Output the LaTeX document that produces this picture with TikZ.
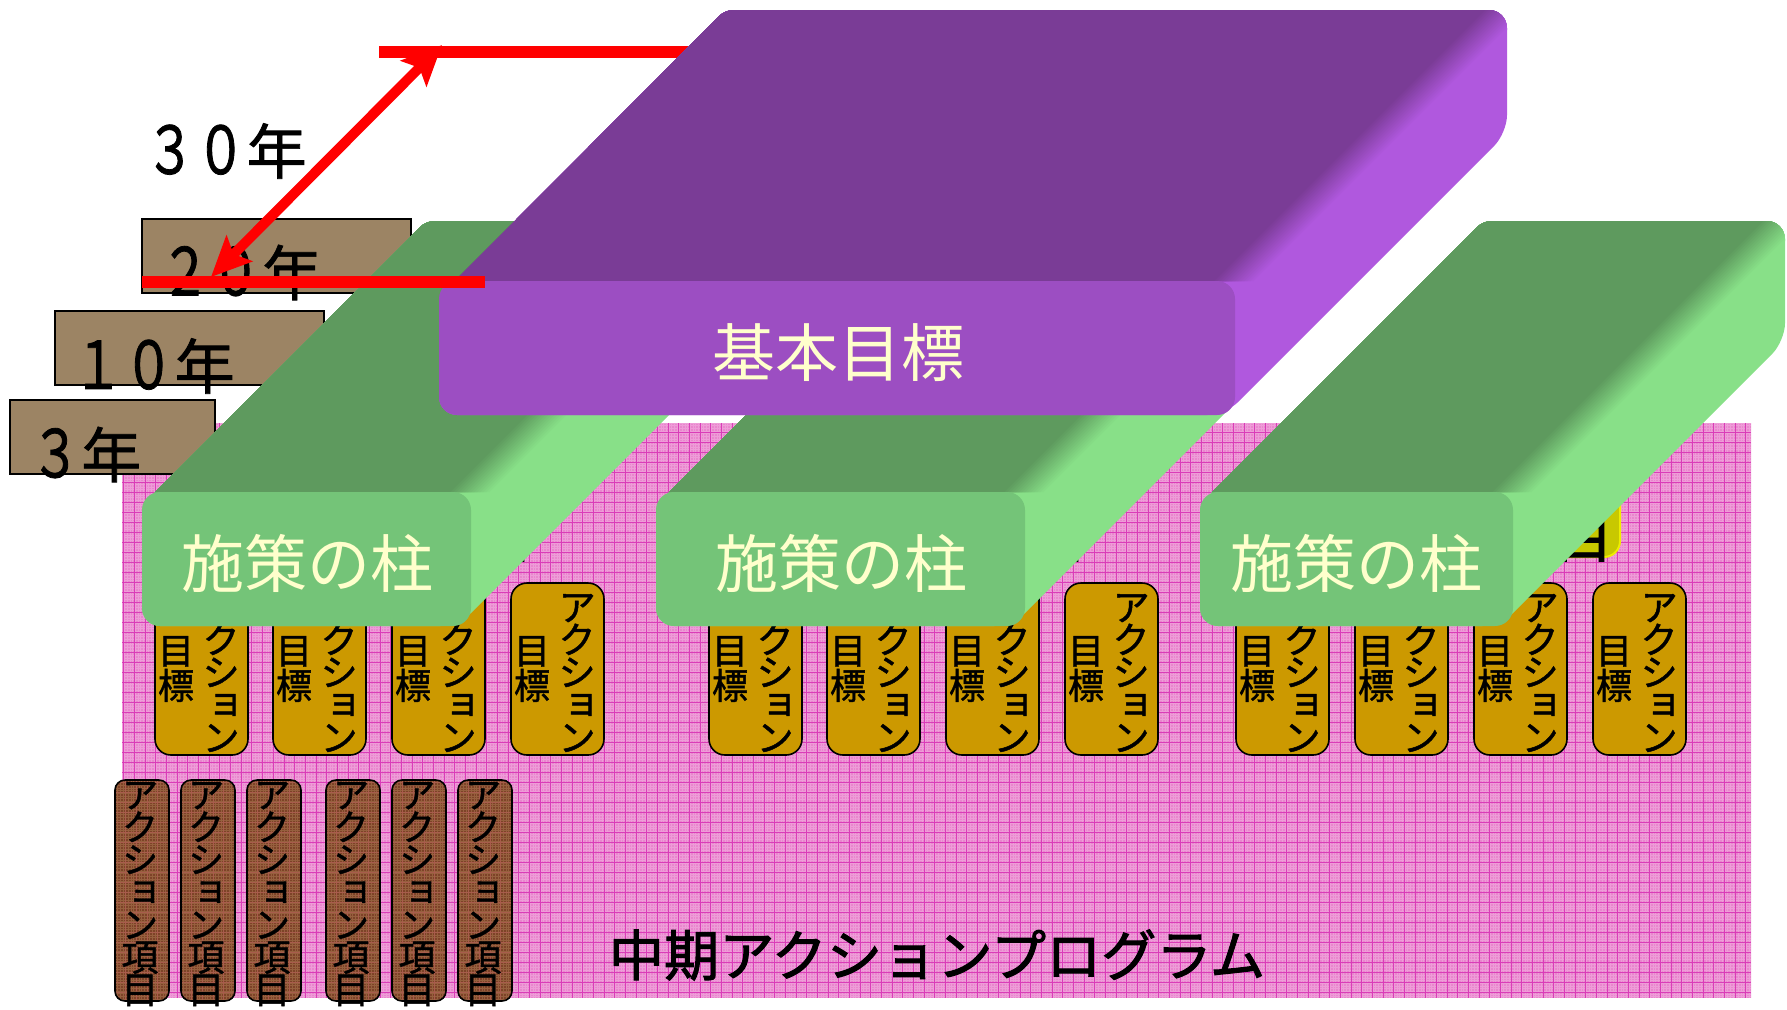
\documentclass[tikz,border=0pt]{standalone}
\usepackage{fontspec}
\usetikzlibrary{arrows.meta}
\setmainfont{Noto Sans CJK JP}
\newfontfamily\gvert[RawFeature={+vert},FakeBold=1.2]{Noto Sans CJK JP}
\newfontfamily\gbold[FakeBold=1.2]{Noto Sans CJK JP}
\newfontfamily\gheavy[FakeBold=1.8]{Noto Sans CJK JP}
\newfontfamily\gnarrow[FakeStretch=0.75,FakeBold=1.2]{Noto Sans CJK JP}
\newcommand\dg[1]{{\gnarrow\fontsize{33}{33}\selectfont #1}\kern.6pt\relax}
\definecolor{pinkbase}{HTML}{E986CD}
\definecolor{pinkfine}{HTML}{EE9CD8}
\definecolor{pinkline}{HTML}{DA3CB8}
\definecolor{itembase}{HTML}{7E4228}
\definecolor{itemfine}{HTML}{96603E}
\definecolor{itemline}{HTML}{A85C4C}
\definecolor{goldbox}{HTML}{CC9900}
\definecolor{yearbox}{HTML}{9C8464}
\definecolor{creamtext}{HTML}{FFFFCC}
\definecolor{gtop}{HTML}{5E9A5E}
\definecolor{gside}{HTML}{88E088}
\definecolor{gfront}{HTML}{74C478}
\definecolor{ptop}{HTML}{7A3C96}
\definecolor{pside}{HTML}{B058DE}
\definecolor{pfront}{HTML}{9C4EC2}
\definecolor{yfill}{HTML}{C8C800}
\definecolor{yedge}{HTML}{EEEE00}
\tikzset{
  goldstyle/.style={draw=black,line width=.8pt,fill=goldbox,rounded corners=8pt},
  itemoutline/.style={draw=black,line width=.8pt,rounded corners=5pt},
  yearstyle/.style={draw=black,line width=.8pt,fill=yearbox},
  gkana/.style={font=\gvert\fontsize{19}{16.3}\selectfont,align=center,inner sep=0pt},
  gkanji/.style={font=\gbold\fontsize{18}{17.5}\selectfont,align=center,inner sep=0pt},
  itemtext/.style={font=\gvert\fontsize{18.5}{16.25}\selectfont,align=center,inner sep=0pt},
  yeartext/.style={font=\gbold\fontsize{30}{30}\selectfont,inner sep=0pt},
  slabtext/.style={font=\fontsize{31.5}{31.5}\selectfont,text=creamtext,inner sep=0pt},
  titletext/.style={font=\gheavy\fontsize{27.6}{27.6}\selectfont,inner sep=0pt},
  stemtext/.style={font=\gbold\fontsize{31}{31}\selectfont,inner sep=0pt},
  redbar/.style={draw=red,line width=6pt},
  redarrow/.style={draw=red,line width=5pt,{Stealth[length=20pt,width=18pt,inset=4pt]}-{Stealth[length=20pt,width=18pt,inset=4pt]}},
}
% #1 top colour, #2 side, #3 front, #4 x1, #5 x2, #6 y1 (front top), #7 y2 (front bottom), #8 y0 (back top), #9 left sum
\newcommand\slabshape[9]{%
  \pgfmathsetmacro\Lb{#9-(#8)}\pgfmathsetmacro\Rs{#5+613}%
  \pgfmathsetmacro\Rb{#5+272}\pgfmathsetmacro\Ry{\Rs-\Rb}%
  \pgfmathsetmacro\Ly{#9-(#4)}\pgfmathsetmacro\Fx{\Rs-(#7)}%
  \begin{scope}
    \path[clip,rounded corners=4pt] (#4,\Ly) -- (\Lb,#8) [rounded corners=9pt] -- (\Rb,#8) -- (\Rb,\Ry) -- (\Fx,#7) -- (#4,#7) -- cycle;
    \fill[#2] (#4-20,#7+20) rectangle (\Rb+20,#8-20);
    \foreach \o in {21,18,...,-21}{
      \pgfmathsetmacro\m{(21-\o)/42*100}
      \fill[#1!\m!#2] (#4-20,#6) -- (#5+\o,#6) -- (#5+\o+320,#6-320) -- (#4-20,#6-320) -- cycle;
    }
  \end{scope}
  \fill[#3,rounded corners=9pt] (#4,#6) rectangle (#5,#7);
}
\begin{document}
\begin{tikzpicture}[x=.5pt,y=-.5pt]
\useasboundingbox (0,0) rectangle (1787,1009);
\fill[white] (0,0) rectangle (1787,1009);
% programme field
\begin{scope}
  \clip (122,423) rectangle (1751,998);
  \fill[pinkbase] (122,423) rectangle (1751,998);
  \foreach \k in {0,...,611}{\draw[pinkfine,line width=.2pt] (122+\k*2.667,423) -- (122+\k*2.667,998);}
  \foreach \k in {0,...,215}{\draw[pinkfine,line width=.2pt] (122,423+\k*2.667) -- (1751,423+\k*2.667);}
  \foreach \k in {0,...,152}{\draw[pinkline,line width=.4pt] (123.85+\k*10.67,423) -- (123.85+\k*10.67,998);}
  \foreach \k in {0,...,57}{\draw[pinkline,line width=.4pt] (122,432+\k*10) -- (1751,432+\k*10);}
\end{scope}
\node[titletext] (title) at (937,955) {中期アクションプログラム};
% action items
\foreach \x [count=\i] in {115,181,247,326,392,458}{
  \begin{scope}
    \clip[rounded corners=5pt] (\x,780) rectangle (\x+54,1001);
    \fill[itembase] (\x,780) rectangle (\x+54,1001);
    \foreach \k in {0,...,20}{\draw[itemfine,line width=.2pt] (\x+\k*2.667,780) -- (\x+\k*2.667,1001);}
    \foreach \k in {0,...,83}{\draw[itemfine,line width=.2pt] (\x,780+\k*2.667) -- (\x+54,780+\k*2.667);}
    \foreach \k in {0,...,5}{\draw[itemline,line width=.3pt] (\x+\k*10.67,780) -- (\x+\k*10.67,1001);}
    \foreach \k in {0,...,22}{\draw[itemline,line width=.3pt] (\x,782+\k*10) -- (\x+54,782+\k*10);}
  \end{scope}
  \draw[itemoutline] (\x,780) rectangle (\x+54,1001);
  \node[itemtext] (item\i) at (\x+25,894) {ア\\ク\\シ\\ョ\\ン\\項\\目};
}
% action goals
\foreach \x [count=\i] in {155,273,392,511,709,827,946,1065,1236,1355,1474,1593}{
  \draw[goldstyle] (\x,583) rectangle (\x+93,755);
  \node[gkana] (goalA\i) at (\x+66,673) {ア\\ク\\シ\\ョ\\ン};
  \node[gkanji] (goalB\i) at (\x+21,669) {目\\標};
}
% yellow box behind the third pillar, and the stems peeking out of the others
\draw[draw=yedge,fill=yfill,line width=1pt,rounded corners=8pt] (1527,400) rectangle (1620,557);
\node[stemtext] (yellowC) at (1583,535) {目};
\node[stemtext] (yellowA) at (503,535) {目};
\node[stemtext] (yellowB) at (1057,535) {目};
% year boxes
\draw[yearstyle] (142,219) rectangle (411,293);
\draw[yearstyle] (55,311) rectangle (324,385);
\draw[yearstyle] (10,400) rectangle (215,474);
\node[yeartext] (y30) at (226,151) {\dg{３}\dg{０}年};
\node[yeartext] (y20) at (241,272.5) {\dg{２}\dg{０}年};
\node[yeartext] (y10) at (154,366) {\dg{１}\dg{０}年};
\node[yeartext] (y3) at (86,454.5) {\dg{３}年};
% pillars
\slabshape{gtop}{gside}{gfront}{142}{471}{492}{626}{221}{647}
\slabshape{gtop}{gside}{gfront}{656}{1025}{492}{626}{221}{1161}
\slabshape{gtop}{gside}{gfront}{1200}{1513}{492}{626}{221}{1704}
\node[slabtext] (p1) at (307,563) {施策の柱};
\node[slabtext] (p2) at (841,563) {施策の柱};
\node[slabtext] (p3) at (1356,563) {施策の柱};
% 30-year bars and arrow
\coordinate (barTopL) at (379,52);
\coordinate (barTopR) at (720,52);
\coordinate (barBotL) at (142,282);
\coordinate (barBotR) at (485,282);
\coordinate (arrTop) at (442,45);
\coordinate (arrBot) at (211,277);
\draw[redbar] (barTopL) -- (barTopR);
% basic goal
\begin{scope}
  \path[clip,rounded corners=4pt] (439,297) -- (725,10) [rounded corners=9pt] -- (1507,10) -- (1507,133) -- (1225,415) -- (439,415) -- cycle;
  \fill[pside] (400,0) rectangle (1530,430);
  \foreach \o in {21,18,...,-21}{
    \pgfmathsetmacro\m{(21-\o)/42*100}
    \fill[ptop!\m!pside] (400,281) -- (1235+\o,281) -- (1235+\o+320,-39) -- (400,-39) -- cycle;
  }
\end{scope}
\fill[pfront,rounded corners=9pt] (439,281) rectangle (1235,415);
\node[slabtext] (goal) at (838,353) {基本目標};
\draw[redbar] (barBotL) -- (barBotR);
\draw[redarrow] (arrBot) -- (arrTop);
\end{tikzpicture}
\end{document}
